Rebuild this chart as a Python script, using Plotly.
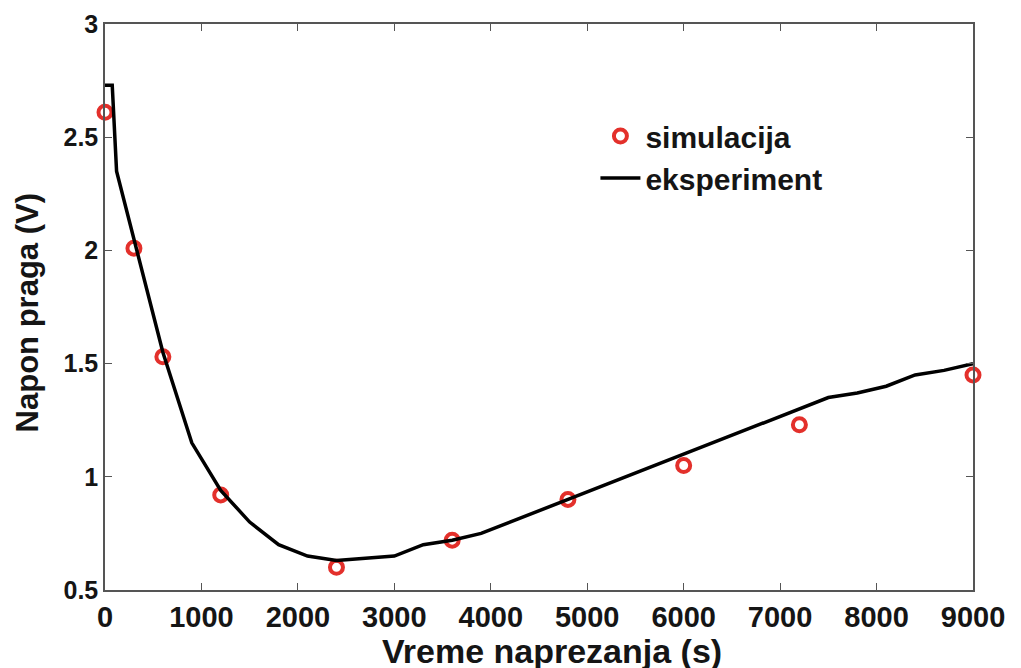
import plotly.graph_objects as pgo

# simulation points (red circles)
sim_t = [0, 300, 600, 1200, 2400, 3600, 4800, 6000, 7200, 9000]
sim_v = [2.61, 2.01, 1.53, 0.92, 0.60, 0.72, 0.90, 1.05, 1.23, 1.45]

# measured curve (black line)
exp_t = [0, 75, 120, 300, 600, 900, 1200, 1500, 1800, 2100, 2400, 2700, 3000,
         3300, 3600, 3900, 4200, 4500, 4800, 5100, 5400, 5700, 6000, 6300,
         6600, 6900, 7200, 7500, 7800, 8100, 8400, 8700, 9000]
exp_v = [2.73, 2.73, 2.35, 2.05, 1.55, 1.15, 0.94, 0.80, 0.70, 0.65, 0.63, 0.64, 0.65,
         0.70, 0.72, 0.75, 0.80, 0.85, 0.90, 0.95, 1.00, 1.05, 1.10, 1.15,
         1.20, 1.25, 1.30, 1.35, 1.37, 1.40, 1.45, 1.47, 1.50]

x_ticks = [0, 1000, 2000, 3000, 4000, 5000, 6000, 7000, 8000, 9000]
y_ticks = [0.5, 1, 1.5, 2, 2.5, 3]
y_labels = ["0.5", "1", "1.5", "2", "2.5", "3"]

FONT = "Liberation Sans, Arial, sans-serif"
AXIS_COL = "#555555"
TXT_COL = "#151515"

fig = pgo.Figure()

fig.add_trace(
    pgo.Scatter(
        x=sim_t,
        y=sim_v,
        mode="markers",
        name="<b>simulacija</b>",
        marker=dict(symbol="circle-open", size=13, color="#e3302b",
                    line=dict(width=4, color="#e3302b")),
        cliponaxis=False,
    )
)
fig.add_trace(
    pgo.Scatter(
        x=exp_t,
        y=exp_v,
        mode="lines",
        name="<b>eksperiment</b>",
        line=dict(color="black", width=3.5),
        cliponaxis=False,
    )
)

axis_common = dict(
    showgrid=False,
    zeroline=False,
    showline=True,
    linecolor=AXIS_COL,
    linewidth=1.5,
    mirror="ticks",
    ticks="inside",
    ticklen=7,
    tickwidth=1.2,
    tickcolor=AXIS_COL,
    automargin=False,
    ticklabeloverflow="allow",
)

fig.update_xaxes(
    range=[0, 9000],
    tickvals=x_ticks,
    ticktext=[str(t) for t in x_ticks],
    tickfont=dict(size=29, family=FONT, color=TXT_COL, weight="bold"),
    **axis_common,
)
fig.update_yaxes(
    range=[0.5, 3],
    tickvals=y_ticks,
    ticktext=y_labels,
    tickfont=dict(size=25, family=FONT, color=TXT_COL, weight="bold"),
    **axis_common,
)

# axis titles placed as annotations so their position is fixed
fig.add_annotation(
    text="<b>Vreme naprezanja (s)</b>",
    xref="paper", yref="paper", x=0.515, y=-0.107,
    xanchor="center", yanchor="middle", showarrow=False,
    font=dict(size=34, family=FONT, color=TXT_COL),
)
fig.add_annotation(
    text="<b>Napon praga (V)</b>",
    xref="paper", yref="paper", x=-0.089, y=0.49,
    xanchor="center", yanchor="middle", showarrow=False, textangle=-90,
    font=dict(size=31, family=FONT, color=TXT_COL),
)

fig.update_layout(
    width=1021,
    height=668,
    margin=dict(l=97, r=56, t=16, b=86),
    plot_bgcolor="white",
    paper_bgcolor="white",
    font=dict(family=FONT, color=TXT_COL),
    showlegend=True,
    legend=dict(
        x=0.565,
        y=0.848,
        xanchor="left",
        yanchor="top",
        bgcolor="rgba(0,0,0,0)",
        font=dict(size=30, family=FONT, color=TXT_COL),
        itemwidth=40,
    ),
)

fig.write_html("out.html")
